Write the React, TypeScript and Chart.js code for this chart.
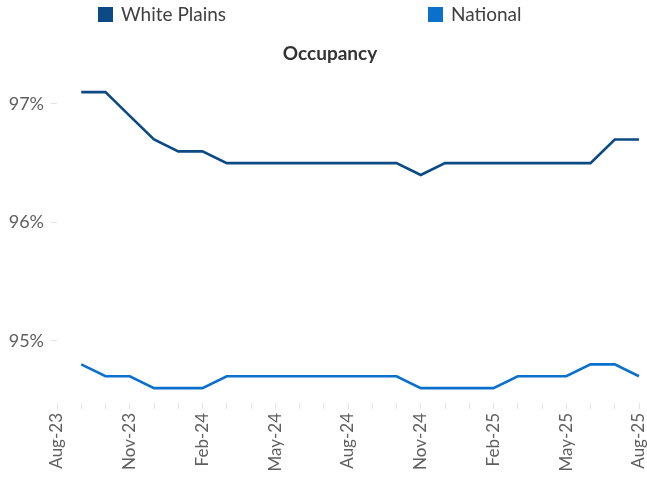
import React, { useEffect, useRef } from 'react';
import { Chart, registerables } from 'chart.js';

Chart.register(...registerables);

const months = [
  'Aug-23', 'Sep-23', 'Oct-23', 'Nov-23', 'Dec-23', 'Jan-24', 'Feb-24', 'Mar-24', 'Apr-24',
  'May-24', 'Jun-24', 'Jul-24', 'Aug-24', 'Sep-24', 'Oct-24', 'Nov-24', 'Dec-24', 'Jan-25',
  'Feb-25', 'Mar-25', 'Apr-25', 'May-25', 'Jun-25', 'Jul-25', 'Aug-25',
];

const whitePlains = [
  null, 97.1, 97.1, 96.9, 96.7, 96.6, 96.6, 96.5, 96.5, 96.5, 96.5, 96.5, 96.5, 96.5, 96.5,
  96.4, 96.5, 96.5, 96.5, 96.5, 96.5, 96.5, 96.5, 96.7, 96.7,
];

const national = [
  null, 94.8, 94.7, 94.7, 94.6, 94.6, 94.6, 94.7, 94.7, 94.7, 94.7, 94.7, 94.7, 94.7, 94.7,
  94.6, 94.6, 94.6, 94.6, 94.7, 94.7, 94.7, 94.8, 94.8, 94.7,
];

const yTicks = [95, 96, 97];
const seriesNames = ['White Plains', 'National'];
const seriesColors = ['#0B4A85', '#0A70CC'];
const chartTitle = 'Occupancy';

const headerPlugin = {
  id: 'header',
  afterDraw(chart: any) {
    const ctx = chart.ctx;
    ctx.save();
    // legend
    const legendPos = [98, 428];
    ctx.font = '19px Lato';
    ctx.textBaseline = 'middle';
    ctx.textAlign = 'left';
    seriesNames.forEach((name, i) => {
      ctx.fillStyle = seriesColors[i];
      ctx.fillRect(legendPos[i], 7, 15, 15);
      ctx.fillStyle = '#404040';
      ctx.fillText(name, legendPos[i] + 23, 15);
    });
    // title
    ctx.font = 'bold 19px Lato';
    ctx.textAlign = 'center';
    ctx.fillStyle = '#333333';
    ctx.fillText(chartTitle, 330, 54);
    ctx.restore();
  },
};

export default function App() {
  const ref = useRef<HTMLCanvasElement>(null);

  useEffect(() => {
    if (!ref.current) return;
    const chart = new Chart(ref.current, {
      type: 'line',
      data: {
        labels: months,
        datasets: [
          {
            label: seriesNames[0],
            data: whitePlains,
            borderColor: seriesColors[0],
            backgroundColor: seriesColors[0],
            borderWidth: 2.6,
            pointRadius: 0,
            tension: 0,
            spanGaps: false,
          },
          {
            label: seriesNames[1],
            data: national,
            borderColor: seriesColors[1],
            backgroundColor: seriesColors[1],
            borderWidth: 2.6,
            pointRadius: 0,
            tension: 0,
            spanGaps: false,
          },
        ],
      },
      options: {
        animation: false,
        responsive: true,
        maintainAspectRatio: false,
        layout: { padding: { top: 70, right: 8, left: 0, bottom: 0 } },
        plugins: {
          legend: { display: false },
          title: { display: false },
          tooltip: { enabled: false },
        },
        scales: {
          x: {
            type: 'category',
            offset: false,
            border: { display: false },
            grid: {
              drawOnChartArea: false,
              drawTicks: true,
              tickLength: 6,
              color: '#e3e3e3',
            },
            ticks: {
              autoSkip: false,
              minRotation: 90,
              maxRotation: 90,
              padding: 4,
              color: '#5f5f5f',
              font: { family: 'Lato', size: 17 },
              callback: (_v: any, i: number) => (i % 3 === 0 ? months[i] : ''),
            },
            afterFit: (scale: any) => {
              scale.height = 75;
              scale.paddingLeft = 0;
              scale.paddingRight = 0;
            },
          },
          y: {
            min: 94.474,
            max: 97.287,
            border: { display: false },
            grid: {
              drawOnChartArea: false,
              drawTicks: true,
              tickLength: 6,
              color: '#e3e3e3',
            },
            afterBuildTicks: (scale: any) => {
              scale.ticks = yTicks.map((v) => ({ value: v }));
            },
            ticks: {
              padding: 7,
              color: '#5f5f5f',
              font: { family: 'Lato', size: 18 },
              callback: (v: any) => `${v}%`,
            },
            afterFit: (scale: any) => {
              scale.width = 57;
            },
          },
        },
      },
      plugins: [headerPlugin],
    });
    return () => chart.destroy();
  }, []);

  return (
    <div style={{ position: 'fixed', left: 0, top: 0, width: 647, height: 478, background: '#fff' }}>
      <canvas ref={ref} />
    </div>
  );
}
